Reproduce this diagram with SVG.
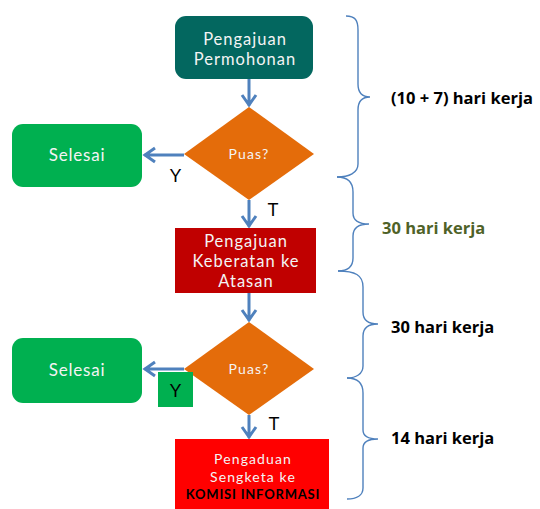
<svg xmlns="http://www.w3.org/2000/svg" width="540" height="509" viewBox="0 0 540 509">
<defs>
<style>
.t{font-family:Lato,"Open Sans",sans-serif;font-size:16.5px;letter-spacing:1px;fill:#f4f4f4;text-anchor:middle}
.se{font-size:17px;letter-spacing:0.8px}
.sm{font-size:14px;letter-spacing:1.1px}
.ki{font-size:13px;font-weight:bold;letter-spacing:0.8px;fill:#000}
.yt{font-family:"Liberation Sans",Arial,sans-serif;font-size:18px;fill:#000;text-anchor:middle}
.lb{font-family:"Open Sans","Noto Sans",sans-serif;font-size:16.5px;font-weight:bold;fill:#000}
.ar{stroke:#4f81bd;stroke-width:3;fill:none;stroke-linejoin:miter}
.br{stroke:#4f81bd;stroke-width:1.4;fill:none}
</style>
</defs>
<rect width="540" height="509" fill="#fff"/>
<g id="connectors">
<path class="ar" d="M249,79 V106 M242,95 L249,105 L256,95"/>
<path class="ar" d="M184,155 H144 M155,148 L145,155 L155,162"/>
<path class="ar" d="M249,200 V227 M242,216 L249,226 L256,216"/>
<path class="ar" d="M249,293 V321 M242,310 L249,320 L256,310"/>
<path class="ar" d="M184,369 H144 M155,362 L145,369 L155,376"/>
<path class="ar" d="M249,415 V438 M242,427 L249,437 L256,427"/>
</g>
<g id="n-pengajuan">
<rect x="175" y="16" width="138" height="63" rx="11" fill="#03675f"/>
<text class="t" x="245" y="45">Pengajuan</text>
<text class="t" x="245" y="65">Permohonan</text>
</g>
<g id="n-puas1">
<polygon points="249,107 314,154 249,200 184,154" fill="#e46c0a"/>
<text class="t sm" x="249" y="159">Puas?</text>
</g>
<g id="n-selesai1">
<rect x="12" y="124" width="130" height="63" rx="11" fill="#00b050"/>
<text class="t se" x="77" y="161">Selesai</text>
</g>
<g id="l-y1"><text class="yt" x="175.5" y="182">Y</text></g>
<g id="l-t1"><text class="yt" x="273" y="216">T</text></g>
<g id="n-keberatan">
<rect x="175" y="228" width="141" height="65" fill="#c00000"/>
<text class="t" x="246" y="247">Pengajuan</text>
<text class="t" x="246" y="267">Keberatan ke</text>
<text class="t" x="246" y="287">Atasan</text>
</g>
<g id="n-puas2">
<polygon points="249,322 314,369 249,415 184,369" fill="#e46c0a"/>
<text class="t sm" x="249" y="374">Puas?</text>
</g>
<g id="n-selesai2">
<rect x="12" y="338" width="130" height="65" rx="11" fill="#00b050"/>
<text class="t se" x="77" y="376">Selesai</text>
</g>
<g id="l-y2">
<rect x="158" y="372" width="35" height="35" fill="#00b050"/>
<text class="yt" x="175.5" y="397">Y</text>
</g>
<g id="l-t2"><text class="yt" x="274" y="430">T</text></g>
<g id="n-komisi">
<rect x="175" y="439" width="154" height="70" fill="#ff0000"/>
<text class="t sm" x="253" y="464">Pengaduan</text>
<text class="t sm" x="253" y="481.5">Sengketa ke</text>
<text class="t ki" x="253" y="498.5">KOMISI INFORMASI</text>
</g>
<g id="braces">
<path class="br" d="M346,16 C355,16 358,20 358,30 L358,84 C358,93 362,97 370,97 C362,97 358,101 358,110 L358,164 C358,173 349,177 337,177"/>
<path class="br" d="M337,177 C348,177 353,182 353,192 L353,213 C353,220 358,224 369,224 C358,224 353,228 353,236 L353,258 C353,266 348,271 338,271"/>
<path class="br" d="M338,271 C355,271 363,275 363,287 L363,312 C363,320 368,324 378,324 C368,324 363,328 363,336 L363,366 C363,374 356,378 347,378"/>
<path class="br" d="M347,378 C358,378 363,383 363,393 L363,430 C363,436 368,439 378,439 C368,439 363,442 363,448 L363,488 C363,495 357,499 347,499"/>
</g>
<g id="labels">
<text class="lb" x="391" y="104">(10 + 7) hari kerja</text>
<text class="lb" x="382" y="234" style="fill:#4f6228">30 hari kerja</text>
<text class="lb" x="391" y="333">30 hari kerja</text>
<text class="lb" x="391" y="444">14 hari kerja</text>
</g>
</svg>
